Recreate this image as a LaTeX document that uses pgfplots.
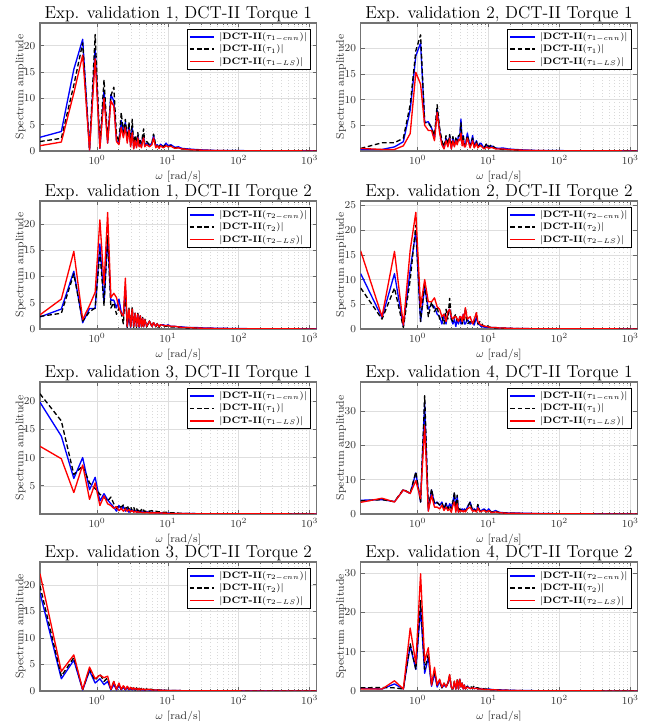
\documentclass[border=0pt]{standalone}
\usepackage{pgfplots}
\pgfplotsset{compat=1.18}
\usepackage{pgfplotstable}

% Panel 1: Exp. validation 1, Torque 1
\pgfplotstableread{
x c m l
0.15708 2.6 1.8 1.0
0.31416 3.7 2.4 1.7
0.47124 15.5 12.5 11.0
0.62832 21.2 20.5 18.2
0.78540 0.2 0.3 0.2
0.94248 19.5 22.1 17.5
1.09956 0.5 1.0 0.5
1.25664 11.5 13.5 10.0
1.41372 1.5 2.0 1.5
1.57080 10.7 10.5 9.5
1.72788 9.5 12.1 8.5
1.88496 2.0 3.0 1.8
2.04204 1.5 1.8 1.2
2.19911 5.8 7.3 4.5
2.35619 3.0 3.5 2.5
2.51327 5.5 6.0 4.5
2.67035 2.0 2.5 1.5
2.82743 5.0 5.5 4.0
2.98451 1.0 1.2 0.8
3.14159 4.5 6.0 3.5
3.29867 0.5 0.8 0.4
3.45575 2.5 3.0 2.0
3.61283 0.8 1.0 0.6
3.76991 3.0 3.5 2.5
3.92699 1.0 1.2 0.8
4.08407 1.5 2.0 1.2
4.24115 0.8 1.0 0.6
4.39823 2.5 3.0 2.0
4.55531 3.0 4.2 2.5
4.71239 1.0 1.2 0.8
5.02655 1.5 1.8 1.2
5.49779 1.0 1.2 0.8
5.96903 1.5 1.5 1.2
6.28319 3.0 3.2 2.5
6.75442 0.8 1.0 0.6
7.06858 1.2 1.0 1.0
7.53982 0.6 0.8 0.5
7.85398 1.3 1.2 1.0
8.63938 0.8 0.8 0.6
9.42478 1.5 1.2 1.0
10.0531 1.0 0.8 0.8
10.9956 1.2 1.0 0.9
12.5664 0.7 0.6 0.5
14.1372 0.8 0.6 0.6
15.7080 0.5 0.4 0.4
18.8496 0.4 0.3 0.3
23.5619 0.3 0.2 0.2
31.4159 0.2 0.1 0.15
47.1239 0.1 0.05 0.08
78.5398 0.08 0.04 0.05
157.080 0.05 0.03 0.03
1256.64 0.02 0.01 0.01
}\tA

% Panel 2: Exp. validation 2, Torque 1
\pgfplotstableread{
x c m l
0.15708 0.3 0.5 0.5
0.31416 0.3 1.6 0.3
0.47124 0.8 1.6 0.3
0.62832 1.8 2.5 1.0
0.78540 8.0 9.0 3.4
0.94248 18.5 19.5 15.3
1.09956 21.0 22.6 13.0
1.25664 5.5 5.5 5.0
1.41372 5.7 5.5 4.0
1.57080 4.5 4.5 4.0
1.72788 2.5 3.0 2.0
1.88496 8.0 9.0 7.5
2.04204 4.0 4.5 3.5
2.19911 1.5 2.0 1.2
2.35619 0.5 0.8 0.4
2.51327 2.5 3.0 2.0
2.67035 1.0 1.2 0.8
2.82743 3.0 3.2 2.5
2.98451 0.5 0.8 0.4
3.14159 2.5 2.8 2.0
3.29867 1.0 1.2 0.8
3.45575 2.5 2.5 2.0
3.61283 1.5 1.5 1.2
3.76991 3.0 3.0 2.2
3.92699 2.8 3.0 2.0
4.08407 6.2 5.5 3.5
4.24115 1.5 1.5 1.0
4.39823 3.0 3.0 2.0
4.55531 1.0 1.2 0.8
4.71239 1.0 1.0 0.8
5.02655 3.5 3.0 2.5
5.49779 0.8 1.0 0.6
5.96903 3.0 2.5 2.0
6.28319 0.8 1.0 0.6
6.75442 2.0 1.8 1.5
7.06858 0.8 0.8 0.6
7.53982 1.5 1.2 1.0
7.85398 1.5 1.0 1.0
8.63938 0.5 0.6 0.4
9.42478 1.2 1.5 0.8
10.0531 0.6 0.8 0.5
10.9956 1.0 1.2 0.7
12.5664 0.6 0.5 0.4
14.1372 0.5 0.4 0.4
15.7080 0.6 0.3 0.4
18.8496 0.4 0.3 0.3
23.5619 0.3 0.2 0.2
31.4159 0.2 0.1 0.15
47.1239 0.1 0.05 0.08
78.5398 0.08 0.04 0.05
157.080 0.05 0.03 0.03
1256.64 0.02 0.01 0.01
}\tB

% Panel 3: Exp. validation 1, Torque 2
\pgfplotstableread{
x c m l
0.15708 2.3 2.4 2.7
0.31416 3.8 3.0 5.7
0.47124 11.0 10.5 14.8
0.62832 1.2 1.5 1.8
0.78540 3.9 3.3 4.5
0.94248 3.9 4.0 7.0
1.09956 16.2 14.7 20.8
1.25664 5.0 4.5 8.5
1.41372 17.5 17.8 22.2
1.57080 5.5 4.0 6.0
1.72788 5.5 5.0 6.8
1.88496 4.0 2.8 6.0
2.04204 5.7 4.0 4.0
2.19911 3.2 3.0 3.0
2.35619 2.5 1.0 2.5
2.51327 8.0 7.5 9.7
2.67035 0.3 0.3 0.5
2.82743 2.5 4.0 3.8
2.98451 0.3 0.2 0.4
3.14159 3.5 4.2 3.8
3.29867 0.5 0.3 0.5
3.45575 3.0 3.0 3.0
3.61283 0.5 0.3 0.5
3.76991 2.8 3.0 2.8
3.92699 0.3 0.5 0.4
4.08407 2.5 2.5 2.5
4.24115 0.5 0.4 0.5
4.39823 2.0 2.2 2.0
4.55531 0.4 0.3 0.4
4.71239 1.8 2.0 1.8
5.02655 0.5 0.4 0.5
5.49779 1.5 1.5 1.5
5.96903 0.5 0.4 0.5
6.28319 1.2 1.2 1.2
6.75442 0.5 0.4 0.5
7.06858 1.0 1.0 1.0
7.53982 0.4 0.3 0.4
7.85398 0.8 0.8 0.8
8.63938 0.8 0.6 0.7
9.42478 0.6 0.5 0.6
10.0531 0.8 0.6 0.7
10.9956 0.5 0.4 0.5
12.5664 0.5 0.4 0.5
14.1372 0.4 0.3 0.4
15.7080 0.4 0.3 0.3
18.8496 0.3 0.2 0.3
23.5619 0.3 0.2 0.2
31.4159 0.2 0.1 0.15
47.1239 0.15 0.05 0.1
78.5398 0.1 0.04 0.05
157.080 0.05 0.03 0.03
1256.64 0.02 0.01 0.01
}\tC

% Panel 4: Exp. validation 2, Torque 2
\pgfplotstableread{
x c m l
0.15708 11.2 8.3 15.8
0.31416 2.3 2.0 2.5
0.47124 11.2 8.3 15.7
0.62832 0.5 0.3 0.8
0.78540 12.0 10.0 16.0
0.94248 19.8 21.0 23.6
1.09956 1.5 1.5 4.5
1.25664 8.5 9.5 10.0
1.41372 4.0 2.5 5.5
1.57080 5.0 5.5 5.5
1.72788 4.5 3.5 6.3
1.88496 3.0 4.5 4.5
2.04204 2.5 2.0 4.0
2.19911 1.0 2.5 2.5
2.35619 3.0 1.0 3.0
2.51327 1.0 4.0 1.5
2.67035 3.5 2.0 3.5
2.82743 4.0 6.2 4.0
2.98451 2.0 2.0 2.5
3.14159 1.0 1.5 2.0
3.29867 2.0 2.5 2.5
3.45575 0.5 3.0 2.5
3.61283 2.0 1.5 2.0
3.76991 1.0 1.5 1.5
3.92699 2.5 2.0 2.5
4.08407 1.0 2.0 2.5
4.24115 1.5 1.0 1.5
4.39823 3.0 2.5 3.0
4.55531 1.0 1.5 2.0
4.71239 1.0 4.3 4.3
5.02655 2.0 1.0 2.0
5.49779 1.0 1.5 2.5
5.96903 1.5 1.0 1.0
6.28319 0.8 1.5 2.0
6.75442 2.5 3.3 3.3
7.06858 1.0 1.0 1.5
7.53982 0.8 1.5 1.0
7.85398 0.5 1.2 0.8
8.63938 0.4 0.5 0.6
9.42478 0.3 0.8 0.5
10.0531 0.3 0.4 0.4
10.9956 0.3 0.3 0.3
12.5664 0.3 0.2 0.3
14.1372 0.2 0.2 0.2
15.7080 0.2 0.15 0.2
18.8496 0.15 0.1 0.15
23.5619 0.1 0.08 0.1
31.4159 0.08 0.05 0.08
47.1239 0.05 0.04 0.05
78.5398 0.04 0.03 0.04
157.080 0.03 0.02 0.03
1256.64 0.01 0.01 0.01
}\tD

% Panel 5: Exp. validation 3, Torque 1
\pgfplotstableread{
x c m l
0.15708 19.8 21.3 12.0
0.31416 13.8 16.5 9.8
0.47124 6.3 7.0 3.8
0.62832 10.0 8.5 8.7
0.78540 4.3 5.5 2.6
0.94248 6.5 4.5 5.5
1.09956 2.3 3.5 1.5
1.25664 3.6 3.0 3.2
1.41372 2.5 2.3 1.8
1.57080 1.8 3.0 1.5
1.72788 1.2 1.8 1.0
1.88496 0.5 1.0 1.3
2.04204 1.5 1.5 0.6
2.19911 0.8 1.2 1.0
2.35619 1.3 1.6 0.5
2.51327 0.5 0.8 0.9
2.67035 1.0 1.5 0.5
2.82743 0.3 0.8 0.8
2.98451 0.8 1.3 0.4
3.14159 0.5 0.6 0.6
3.29867 0.7 1.2 0.3
3.45575 0.4 0.5 0.5
3.61283 0.6 1.0 0.3
3.76991 0.3 0.5 0.4
3.92699 0.5 0.9 0.3
4.08407 0.3 0.4 0.3
4.24115 0.5 0.8 0.3
4.39823 0.3 0.4 0.2
4.55531 0.4 0.7 0.3
4.71239 0.3 0.4 0.2
5.02655 0.4 0.6 0.3
5.49779 0.3 0.5 0.2
5.96903 0.3 0.6 0.2
6.28319 0.3 0.4 0.2
6.75442 0.2 0.5 0.2
7.06858 0.3 0.4 0.2
7.53982 0.2 0.4 0.2
7.85398 0.2 0.4 0.2
8.63938 0.2 0.3 0.15
9.42478 0.2 0.3 0.15
10.0531 0.15 0.3 0.1
10.9956 0.15 0.2 0.1
12.5664 0.1 0.2 0.1
14.1372 0.1 0.15 0.1
15.7080 0.1 0.1 0.08
18.8496 0.08 0.08 0.06
23.5619 0.06 0.06 0.05
31.4159 0.05 0.05 0.04
47.1239 0.04 0.03 0.03
78.5398 0.03 0.02 0.02
157.080 0.02 0.02 0.02
1256.64 0.01 0.01 0.01
}\tE

% Panel 6: Exp. validation 4, Torque 1
\pgfplotstableread{
x c m l
0.15708 4.0 3.8 3.4
0.31416 4.2 4.2 4.6
0.47124 3.6 3.6 3.5
0.62832 7.0 7.2 7.0
0.78540 6.0 6.0 6.0
0.94248 12.0 12.3 9.7
1.09956 3.5 3.5 4.5
1.25664 32.5 34.5 25.7
1.41372 1.0 1.5 0.8
1.57080 7.0 7.3 5.5
1.72788 3.0 3.0 2.0
1.88496 3.5 3.3 2.0
2.04204 2.5 2.7 1.5
2.19911 3.5 3.2 2.5
2.35619 1.5 1.5 1.0
2.51327 3.2 3.0 2.0
2.67035 1.5 1.5 1.0
2.82743 3.0 2.5 1.5
2.98451 2.0 1.5 0.5
3.14159 3.5 3.5 2.5
3.29867 6.0 6.4 3.5
3.45575 1.5 1.0 0.5
3.61283 5.0 5.5 3.0
3.76991 0.5 0.5 0.5
3.92699 1.5 1.5 1.0
4.08407 1.0 1.0 0.8
4.24115 1.5 1.2 1.0
4.39823 0.8 1.0 0.6
4.55531 1.5 1.2 1.0
4.71239 0.8 0.8 0.6
5.02655 2.0 1.8 1.5
5.49779 3.5 3.5 2.0
5.96903 1.0 0.8 0.8
6.28319 1.5 1.2 1.0
6.75442 0.8 1.0 0.6
7.06858 2.5 2.8 1.8
7.53982 0.8 0.8 0.6
7.85398 1.0 0.8 0.8
8.63938 1.5 1.2 1.0
9.42478 0.8 0.6 0.6
10.0531 1.5 1.2 1.0
10.9956 0.5 0.5 0.4
12.5664 1.0 0.8 0.6
14.1372 0.5 0.4 0.4
15.7080 0.4 0.3 0.3
18.8496 0.3 0.2 0.2
23.5619 0.3 0.2 0.2
31.4159 0.2 0.1 0.15
47.1239 0.15 0.05 0.1
78.5398 0.1 0.04 0.05
157.080 0.05 0.03 0.03
1256.64 0.02 0.01 0.01
}\tF

% Panel 7: Exp. validation 3, Torque 2
\pgfplotstableread{
x c m l
0.15708 18.5 19.8 22.1
0.31416 2.3 2.8 3.7
0.47124 5.8 6.3 6.8
0.62832 0.2 0.3 0.3
0.78540 3.8 4.1 4.5
0.94248 1.5 2.0 2.3
1.09956 2.3 3.2 3.0
1.25664 1.2 1.8 2.5
1.41372 1.8 2.5 2.8
1.57080 0.2 0.3 0.3
1.72788 1.2 1.8 1.8
1.88496 0.2 0.3 0.3
2.04204 1.0 1.3 1.5
2.19911 0.2 0.3 0.3
2.35619 0.7 1.0 1.0
2.51327 0.2 0.3 0.3
2.67035 0.6 0.9 0.9
2.82743 0.2 0.3 0.3
2.98451 0.5 0.8 0.7
3.14159 0.2 0.3 0.3
3.29867 0.5 0.7 0.6
3.45575 0.2 0.2 0.3
3.61283 0.4 0.6 0.5
3.76991 0.2 0.2 0.2
3.92699 0.4 0.5 0.5
4.08407 0.2 0.2 0.2
4.24115 0.3 0.5 0.4
4.39823 0.15 0.2 0.2
4.55531 0.3 0.4 0.4
4.71239 0.15 0.2 0.2
5.02655 0.3 0.4 0.3
5.49779 0.2 0.3 0.3
5.96903 0.2 0.3 0.2
6.28319 0.2 0.2 0.2
6.75442 0.2 0.2 0.2
7.06858 0.15 0.2 0.2
7.53982 0.15 0.2 0.15
7.85398 0.15 0.15 0.15
8.63938 0.12 0.15 0.12
9.42478 0.1 0.12 0.1
10.0531 0.1 0.1 0.1
10.9956 0.1 0.1 0.1
12.5664 0.08 0.08 0.08
14.1372 0.07 0.07 0.07
15.7080 0.06 0.06 0.06
18.8496 0.05 0.05 0.05
23.5619 0.04 0.04 0.04
31.4159 0.03 0.03 0.03
47.1239 0.03 0.02 0.02
78.5398 0.02 0.02 0.02
157.080 0.02 0.01 0.01
1256.64 0.01 0.01 0.01
}\tG

% Panel 8: Exp. validation 4, Torque 2
\pgfplotstableread{
x c m l
0.15708 0.7 0.8 0.5
0.31416 0.5 0.9 0.5
0.47124 1.8 0.8 2.6
0.62832 0.5 0.5 0.5
0.78540 11.5 12.0 16.0
0.94248 5.5 5.5 7.0
1.09956 21.0 23.0 29.8
1.25664 4.5 5.5 7.5
1.41372 8.5 9.3 11.0
1.57080 1.2 1.5 1.5
1.72788 4.5 5.0 6.0
1.88496 1.0 1.5 1.5
2.04204 2.5 2.8 3.0
2.19911 0.8 0.8 1.0
2.35619 1.5 2.0 2.0
2.51327 1.0 1.0 1.0
2.67035 2.0 2.0 2.0
2.82743 3.5 4.0 4.2
2.98451 1.0 1.0 1.0
3.14159 0.5 0.5 0.5
3.29867 2.0 2.5 2.5
3.45575 0.5 0.5 0.5
3.61283 2.5 3.0 2.8
3.76991 0.5 0.5 0.5
3.92699 3.0 3.2 3.0
4.08407 1.0 1.0 1.0
4.24115 2.0 2.0 2.0
4.39823 0.5 0.8 0.5
4.55531 1.5 1.5 1.5
4.71239 0.5 0.6 0.5
5.02655 1.2 1.2 1.0
5.49779 0.6 1.2 0.6
5.96903 0.8 0.8 0.8
6.28319 0.6 1.3 0.6
6.75442 0.8 0.8 0.7
7.06858 0.5 0.8 0.5
7.53982 0.6 0.6 0.5
7.85398 0.5 0.8 0.5
8.63938 0.5 0.5 0.4
9.42478 0.4 0.5 0.4
10.0531 0.5 0.4 0.4
10.9956 0.4 0.3 0.3
12.5664 0.3 0.3 0.3
14.1372 0.3 0.2 0.2
15.7080 0.25 0.2 0.2
18.8496 0.2 0.15 0.15
23.5619 0.15 0.1 0.1
31.4159 0.1 0.08 0.08
47.1239 0.08 0.05 0.05
78.5398 0.05 0.04 0.04
157.080 0.03 0.03 0.03
1256.64 0.01 0.01 0.01
}\tH

\pgfplotsset{
  every axis/.append style={
    scale only axis, width=207.5pt, height=96pt,
    axis line style={black!55, line width=0.9pt},
    tick align=inside, major tick length=3pt, minor tick length=1.6pt,
    xmajorgrids=true, ymajorgrids=true, xminorgrids=true,
    major grid style={black!13, line width=0.4pt},
    minor grid style={black!15, dotted, line width=0.4pt},
    tick label style={font=\fontsize{8}{9}\selectfont, text=black!80},
    label style={font=\fontsize{8.3}{10}\selectfont, text=black!80},
    title style={font=\fontsize{13}{15}\selectfont, yshift=-9pt},
    xlabel={$\omega$ [rad/s]}, ylabel={Spectrum amplitude},
    xlabel style={yshift=2pt},
    ylabel style={yshift=-8pt},
    legend cell align=left,
    legend style={at={(0.978,0.955)}, anchor=north east,
      fill=white, inner sep=1.5pt, row sep=0.5pt, column sep=2pt,
      nodes={inner sep=1pt},
      font=\fontsize{7}{8.5}\selectfont},
    legend image code/.code={\draw[#1, line width=1.25pt] (0cm,0cm) -- (0.65cm,0cm);},
  },
  every tick/.append style={black!60, line width=0.5pt},
  every axis plot/.append style={line width=1pt, line join=round},
}

\newcommand{\legone}{\legend{$|\textbf{DCT-II}(\tau_{1-cnn})|$,$|\textbf{DCT-II}(\tau_{1})|$,$|\textbf{DCT-II}(\tau_{1-LS})|$}}
\newcommand{\legtwo}{\legend{$|\textbf{DCT-II}(\tau_{2-cnn})|$,$|\textbf{DCT-II}(\tau_{2})|$,$|\textbf{DCT-II}(\tau_{2-LS})|$}}

\begin{document}
\begin{tikzpicture}
\useasboundingbox (0,0) rectangle (487.5pt,540.75pt);

\begin{axis}[xmode=log, xmin=0.15708, xmax=1256.64, ymin=0, xtick={1,10,100,1000},
  anchor=south west, at={(30pt,427.5pt)}, ymax=24.3, ytick={0,5,10,15,20},
  title={Exp. validation 1, DCT-II Torque 1}]
\addplot[draw=blue] table[x=x,y=c]{\tA};
\addplot[draw=black, dash pattern=on 3.5pt off 2pt] table[x=x,y=m]{\tA};
\addplot[draw=red] table[x=x,y=l]{\tA};
\legone
\end{axis}

\begin{axis}[xmode=log, xmin=0.15708, xmax=1256.64, ymin=0, xtick={1,10,100,1000},
  anchor=south west, at={(270.5pt,427.5pt)}, ymax=24.9, ytick={5,10,15,20},
  title={Exp. validation 2, DCT-II Torque 1}]
\addplot[draw=blue] table[x=x,y=c]{\tB};
\addplot[draw=black, dash pattern=on 3.5pt off 2pt] table[x=x,y=m]{\tB};
\addplot[draw=red] table[x=x,y=l]{\tB};
\legone
\end{axis}

\begin{axis}[xmode=log, xmin=0.15708, xmax=1256.64, ymin=0, xtick={1,10,100,1000},
  anchor=south west, at={(30pt,294pt)}, ymax=24.4, ytick={0,5,10,15,20},
  title={Exp. validation 1, DCT-II Torque 2}]
\addplot[draw=blue] table[x=x,y=c]{\tC};
\addplot[draw=black, dash pattern=on 3.5pt off 2pt] table[x=x,y=m]{\tC};
\addplot[draw=red] table[x=x,y=l]{\tC};
\legtwo
\end{axis}

\begin{axis}[xmode=log, xmin=0.15708, xmax=1256.64, ymin=0, xtick={1,10,100,1000},
  anchor=south west, at={(270.5pt,294pt)}, ymax=25.9, ytick={0,5,10,15,20,25},
  title={Exp. validation 2, DCT-II Torque 2}]
\addplot[draw=blue] table[x=x,y=c]{\tD};
\addplot[draw=black, dash pattern=on 3.5pt off 2pt] table[x=x,y=m]{\tD};
\addplot[draw=red] table[x=x,y=l]{\tD};
\legtwo
\end{axis}

\begin{axis}[xmode=log, xmin=0.15708, xmax=1256.64, ymin=0, xtick={1,10,100,1000},
  anchor=south west, at={(30pt,155.25pt)}, height=99pt, ymax=23.4, ytick={5,10,15,20},
  title={Exp. validation 3, DCT-II Torque 1}]
\addplot[draw=blue] table[x=x,y=c]{\tE};
\addplot[draw=black, dash pattern=on 3.5pt off 2pt] table[x=x,y=m]{\tE};
\addplot[draw=red] table[x=x,y=l]{\tE};
\legone
\end{axis}

\begin{axis}[xmode=log, xmin=0.15708, xmax=1256.64, ymin=0, xtick={1,10,100,1000},
  anchor=south west, at={(270.5pt,155.25pt)}, height=99pt, ymax=38.5, ytick={0,10,20,30},
  title={Exp. validation 4, DCT-II Torque 1}]
\addplot[draw=blue] table[x=x,y=c]{\tF};
\addplot[draw=black, dash pattern=on 3.5pt off 2pt] table[x=x,y=m]{\tF};
\addplot[draw=red] table[x=x,y=l]{\tF};
\legone
\end{axis}

\begin{axis}[xmode=log, xmin=0.15708, xmax=1256.64, ymin=0, xtick={1,10,100,1000},
  anchor=south west, at={(30pt,22.5pt)}, height=96.75pt, ymax=24.3, ytick={0,5,10,15,20},
  title={Exp. validation 3, DCT-II Torque 2}]
\addplot[draw=blue] table[x=x,y=c]{\tG};
\addplot[draw=black, dash pattern=on 3.5pt off 2pt] table[x=x,y=m]{\tG};
\addplot[draw=red] table[x=x,y=l]{\tG};
\legtwo
\end{axis}

\begin{axis}[xmode=log, xmin=0.15708, xmax=1256.64, ymin=0, xtick={1,10,100,1000},
  anchor=south west, at={(270.5pt,22.5pt)}, height=96.75pt, ymax=32.8, ytick={0,10,20,30},
  title={Exp. validation 4, DCT-II Torque 2}]
\addplot[draw=blue] table[x=x,y=c]{\tH};
\addplot[draw=black, dash pattern=on 3.5pt off 2pt] table[x=x,y=m]{\tH};
\addplot[draw=red] table[x=x,y=l]{\tH};
\legtwo
\end{axis}

\end{tikzpicture}
\end{document}
